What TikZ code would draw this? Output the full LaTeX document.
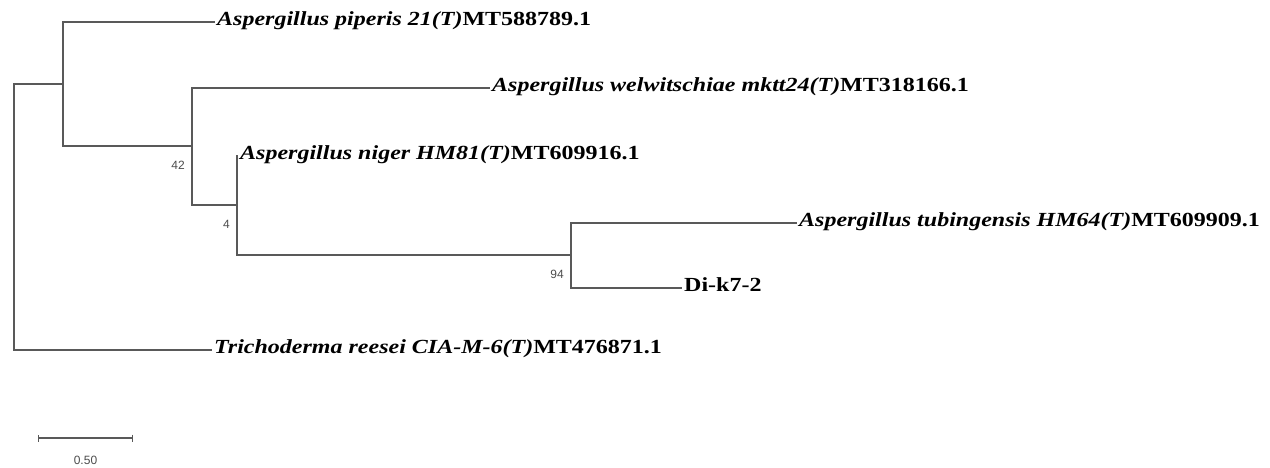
\documentclass[tikz,border=0pt]{standalone}
\usepackage{fontspec}
\setmainfont{Liberation Serif}
\setsansfont{Liberation Sans}
\newfontfamily\treefont[FakeStretch=1.2]{Liberation Serif}
\usepackage{tikz}
\usetikzlibrary{arrows.meta,positioning}
\newcommand{\taxonlbl}[2]{\textbf{\textit{#1}}\textbf{#2}}
\tikzset{
  branch/.style={draw=black!65, line width=1.4pt},
  leaf/.style={anchor=west, inner sep=2pt, text height=0.8em, text depth=0.2em,
               font=\treefont\fontsize{20}{22}\selectfont},
  boot/.style={anchor=east, inner sep=0pt, text=black!70, xshift=-7pt, yshift=-19pt,
               font=\sffamily\fontsize{12}{13}\selectfont}
}
\begin{document}
\begin{tikzpicture}[
  x=1pt, y=-1pt,
  scalebar/.style={draw=black!65, line width=1.4pt, {Bar[width=7pt]}-{Bar[width=7pt]}},
  scalelbl/.style={inner sep=0pt, text=black!70, font=\sffamily\fontsize{12}{13}\selectfont}
]
\useasboundingbox (0,0) rectangle (1270,467);
% ---- internal nodes ----
\coordinate (root) at (14,216);
\coordinate (nA) at (63,84);
\coordinate (nB) at (192,146);
\coordinate (nC) at (237,205);
\coordinate (nD) at (571,255);
% ---- leaves ----
\node[leaf] (pip) at (215,22) {\taxonlbl{Aspergillus piperis 21(T)}{MT588789.1}};
\node[leaf] (wel) at (490,88) {\taxonlbl{Aspergillus welwitschiae mktt24(T)}{MT318166.1}};
\node[leaf] (nig) at (238,156) {\taxonlbl{Aspergillus niger HM81(T)}{MT609916.1}};
\node[leaf] (tub) at (797,223) {\taxonlbl{Aspergillus tubingensis HM64(T)}{MT609909.1}};
\node[leaf] (dik) at (682,288) {\textbf{Di-k7-2}};
\node[leaf] (tri) at (212,350) {\taxonlbl{Trichoderma reesei CIA-M-6(T)}{MT476871.1}};
% ---- branches ----
\draw[branch] (root) |- (nA);
\draw[branch] (root) |- (tri.west);
\draw[branch] (nA) |- (pip.west);
\draw[branch] (nA) |- (nB);
\draw[branch] (nB) |- (wel.west);
\draw[branch] (nB) |- (nC);
\draw[branch] (nC) |- (nig.west);
\draw[branch] (nC) |- (nD);
\draw[branch] (nD) |- (tub.west);
\draw[branch] (nD) |- (dik.west);
% ---- bootstrap values ----
\node[boot] (bB) at (nB) {42};
\node[boot] (bC) at (nC) {4};
\node[boot] (bD) at (nD) {94};
% ---- scale bar ----
\coordinate (sbL) at (38,438);
\coordinate (sbR) at (133,438);
\draw[scalebar] (sbL) -- (sbR) node[scalelbl, midway, below=17pt] (sbtxt) {0.50};
\end{tikzpicture}
\end{document}
